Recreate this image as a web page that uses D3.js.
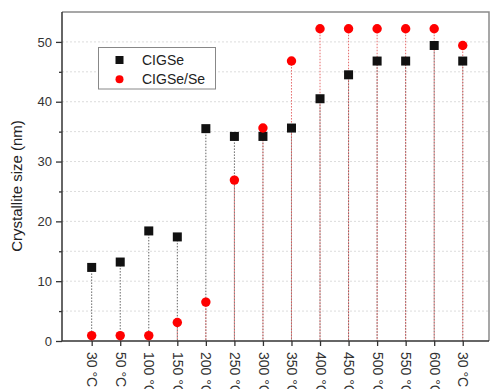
<!DOCTYPE html>
<html><head><meta charset="utf-8">
<script src="https://cdn.jsdelivr.net/npm/d3@7"></script>
<style>body{margin:0;background:#fff;}svg{display:block;font-family:Arial,"Liberation Sans",sans-serif;}</style>
</head><body><div id="chart"></div>
<script>
const categories = ["30 °C","50 °C","100 °C","150 °C","200 °C","250 °C","300 °C","350 °C","400 °C","450 °C","500 °C","550 °C","600 °C","30 °C"];
const cigse = [12.3,13.2,18.4,17.4,35.5,34.2,34.2,35.6,40.5,44.5,46.8,46.8,49.4,46.8];
const cigseSe = [0.9,0.9,0.9,3.1,6.5,26.9,35.6,46.8,52.2,52.2,52.2,52.2,52.2,49.4];
const yTicks = [0,10,20,30,40,50];
const yMinor = [5,15,25,35,45];
const seriesNames = ["CIGSe","CIGSe/Se"];

const W=491,H=389;
const m={left:62,top:12,right:489,bottom:341};
const svg=d3.select("#chart").append("svg").attr("width",W).attr("height",H);
const x=d3.scaleLinear().domain([-1.04,13.92]).range([m.left,m.right]);
const y=d3.scaleLinear().domain([0,55]).range([m.bottom,m.top]);
const idx=d3.range(categories.length);

// grid
svg.append("g").selectAll("line").data(yTicks.concat(yMinor).filter(v=>v>0)).join("line")
  .attr("x1",m.left).attr("x2",m.right).attr("y1",d=>y(d)).attr("y2",d=>y(d))
  .attr("stroke","#dcdcdc").attr("stroke-width",1).attr("stroke-dasharray","2,2");

// frame top/right
svg.append("path").attr("d",`M${m.left},${m.top}H${m.right}V${m.bottom}`)
  .attr("fill","none").attr("stroke","#8a8a8a").attr("stroke-width",1.5);

// drop lines
svg.append("g").selectAll("line").data(idx).join("line")
  .attr("x1",i=>x(i)).attr("x2",i=>x(i)).attr("y1",i=>y(cigse[i])).attr("y2",y(0))
  .attr("stroke","#666").attr("stroke-width",1).attr("stroke-dasharray","1.5,1.5");
svg.append("g").selectAll("line").data(idx).join("line")
  .attr("x1",i=>x(i)).attr("x2",i=>x(i)).attr("y1",i=>y(cigseSe[i])).attr("y2",y(0))
  .attr("stroke","#e46a6a").attr("stroke-width",1).attr("stroke-dasharray","1.5,1.5");

// axes
const yAxis=svg.append("g").attr("transform",`translate(${m.left},0)`)
  .call(d3.axisLeft(y).tickValues(yTicks).tickSize(6).tickPadding(4).tickFormat(d3.format("d")));
const yMin=svg.append("g").attr("transform",`translate(${m.left},0)`)
  .call(d3.axisLeft(y).tickValues(yMinor).tickSize(3).tickFormat(""));
yMin.select(".domain").remove();
const xAxis=svg.append("g").attr("transform",`translate(0,${m.bottom})`)
  .call(d3.axisBottom(x).tickValues(idx).tickSize(5).tickFormat(i=>categories[i]));
[yAxis,yMin,xAxis].forEach(g=>{g.selectAll("line").attr("stroke","#333").attr("stroke-width",1.3);});
yAxis.select(".domain").attr("stroke","#333").attr("stroke-width",1.5).attr("d",`M0,${m.bottom}V${m.top}`);
xAxis.select(".domain").attr("stroke","#333").attr("stroke-width",1.5).attr("d",`M${m.left},0H${m.right}`);
yAxis.selectAll("text").attr("font-size",13).attr("fill","#333").attr("font-family","Arial,'Liberation Sans',sans-serif");
xAxis.selectAll("text").attr("font-size",14).attr("fill","#333").attr("font-family","Arial,'Liberation Sans',sans-serif")
  .attr("transform","rotate(90)").attr("text-anchor","start").attr("dy","0.35em").attr("x",11).attr("y",0);

// markers
svg.append("g").selectAll("rect").data(idx).join("rect")
  .attr("x",i=>x(i)-4.5).attr("y",i=>y(cigse[i])-4.5).attr("width",9).attr("height",9).attr("fill","#111");
svg.append("g").selectAll("circle").data(idx).join("circle")
  .attr("cx",i=>x(i)).attr("cy",i=>y(cigseSe[i])).attr("r",4.7).attr("fill","#f00");

// y title
svg.append("text").attr("transform","translate(22,186) rotate(-90)").attr("text-anchor","middle")
  .attr("font-size",15).attr("fill","#222").text("Crystallite size (nm)");

// legend
const lg=svg.append("g");
lg.append("rect").attr("x",98.5).attr("y",47.5).attr("width",117).attr("height",41.5)
  .attr("fill","#fff").attr("stroke","#888").attr("stroke-width",1);
lg.append("rect").attr("x",119.5-4).attr("y",60-4).attr("width",8).attr("height",8).attr("fill","#111");
lg.append("circle").attr("cx",119.5).attr("cy",79.3).attr("r",4).attr("fill","#f00");
lg.selectAll("text").data(seriesNames).join("text").attr("x",142).attr("y",(d,i)=>60+i*19.3).attr("dy","0.35em")
  .attr("font-size",14).attr("fill","#222").text(d=>d);
</script></body></html>
